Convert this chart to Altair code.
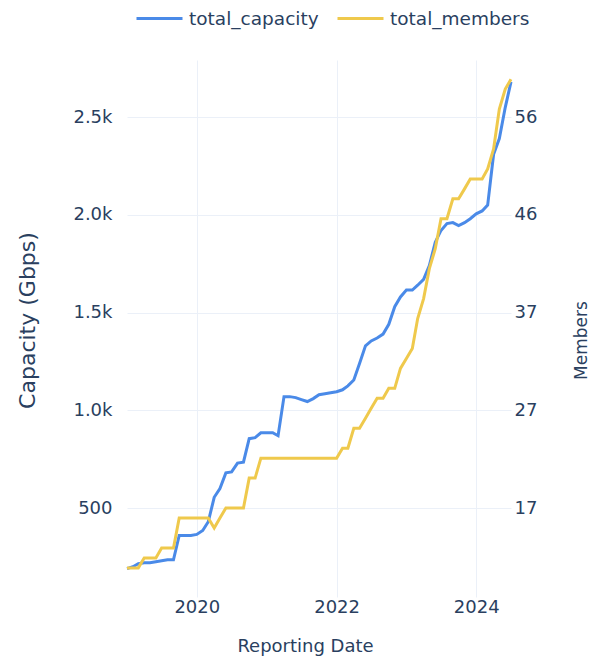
import altair as alt
import pandas as pd

# ---- data ----
months = pd.date_range("2019-01-01", "2024-07-01", freq="MS").strftime("%Y-%m-%dT00:00:00").tolist()

total_capacity = [
    190, 200, 215, 220, 220, 225, 230, 235, 235, 360, 360, 360,          # 2019
    365, 385, 430, 555, 600, 680, 685, 730, 735, 855, 860, 885,          # 2020
    885, 885, 870, 1070, 1070, 1065, 1055, 1045, 1060, 1080, 1085, 1090,  # 2021
    1095, 1105, 1125, 1155, 1240, 1330, 1355, 1370, 1390, 1440, 1530, 1580,  # 2022
    1615, 1615, 1640, 1670, 1740, 1860, 1920, 1955, 1960, 1945, 1960, 1980,  # 2023
    2005, 2020, 2050, 2310, 2390, 2550, 2680,                            # 2024
]

total_members = [
    11, 11, 11, 12, 12, 12, 13, 13, 13, 16, 16, 16,
    16, 16, 16, 15, 16, 17, 17, 17, 17, 20, 20, 22,
    22, 22, 22, 22, 22, 22, 22, 22, 22, 22, 22, 22,
    22, 23, 23, 25, 25, 26, 27, 28, 28, 29, 29, 31,
    32, 33, 36, 38, 41, 43, 46, 46, 48, 48, 49, 50,
    50, 50, 51, 53, 57, 59, 60,
]

series_names = ["total_capacity", "total_members"]
series_colors = ["#4a8ae8", "#efc94c"]
year_ticks = [2020, 2022, 2024]
cap_ticks = [500, 1000, 1500, 2000, 2500]
member_ticks = [17.0, 26.8, 36.6, 46.4, 56.2]

df = pd.DataFrame({"date": months,
                   "total_capacity": total_capacity,
                   "total_members": total_members})

TEXT = "#2a3f5f"
GRID = "#ebf0f8"
FONT = "DejaVu Sans"

x_enc = alt.X(
    "date:T",
    scale=alt.Scale(domain=[alt.DateTime(year=2019, month=1, date=1),
                            alt.DateTime(year=2024, month=7, date=1)], nice=False),
    axis=alt.Axis(title="Reporting Date",
                  values=[alt.DateTime(year=y, month=1, date=1) for y in year_ticks],
                  format="%Y", grid=True, gridColor=GRID, gridWidth=1,
                  domain=False, ticks=False, tickSize=0,
                  labelBaseline="middle", labelPadding=10,
                  labelFont=FONT, labelFontSize=18, labelColor=TEXT,
                  titleFont=FONT, titleFontSize=18, titleFontWeight="normal", titleColor=TEXT,
                  titleX=178, titleY=49, titleBaseline="middle"),
)

color_scale = alt.Scale(domain=series_names, range=series_colors)
legend = alt.Legend(title=None, orient="none", legendX=8, legendY=-66,
                    direction="horizontal", symbolType="stroke",
                    symbolSize=2116, symbolStrokeWidth=3,
                    labelFont=FONT, labelFontSize=18.5, labelColor=TEXT,
                    labelOffset=5, columnPadding=12)

cap = alt.Chart(df).transform_calculate(series="'total_capacity'").mark_line(
    strokeWidth=3
).encode(
    x=x_enc,
    y=alt.Y("total_capacity:Q",
            scale=alt.Scale(domain=[45, 2792], nice=False, zero=False),
            axis=alt.Axis(title="Capacity (Gbps)", values=cap_ticks,
                          labelExpr="datum.value >= 1000 ? format(datum.value/1000, '.1f') + 'k' : format(datum.value, 'd')",
                          grid=True, gridColor=GRID, domain=False, ticks=False, tickSize=0,
                          labelPadding=15, labelFont=FONT, labelFontSize=18, labelColor=TEXT,
                          titleFont=FONT, titleFontSize=22, titleFontWeight="normal", titleColor=TEXT,
                          titleX=-100, titleY=260, titleBaseline="middle", titleAngle=270)),
    color=alt.Color("series:N", scale=color_scale, legend=legend),
)

mem = alt.Chart(df).transform_calculate(series="'total_members'").mark_line(
    strokeWidth=3
).encode(
    x=x_enc,
    y=alt.Y("total_members:Q",
            scale=alt.Scale(domain=[8.08, 61.92], nice=False, zero=False),
            axis=alt.Axis(title="Members", orient="right", values=member_ticks, format=".0f",
                          grid=False, domain=False, ticks=False, tickSize=0,
                          labelPadding=3, labelFont=FONT, labelFontSize=18, labelColor=TEXT,
                          titleFont=FONT, titleFontSize=17, titleFontWeight="normal", titleColor=TEXT,
                          titleX=70, titleY=280, titleBaseline="middle", titleAngle=270)),
    color=alt.Color("series:N", scale=color_scale, legend=legend),
)

chart = alt.layer(cap, mem).resolve_scale(y="independent").properties(
    width=384, height=537,
    autosize=alt.AutoSizeParams(type="none"),
    padding={"left": 119, "top": 52, "right": 81, "bottom": 60},
    background="white",
).configure_view(stroke=None)

chart.save("out.html", embed_options={"renderer": "svg", "actions": False})
